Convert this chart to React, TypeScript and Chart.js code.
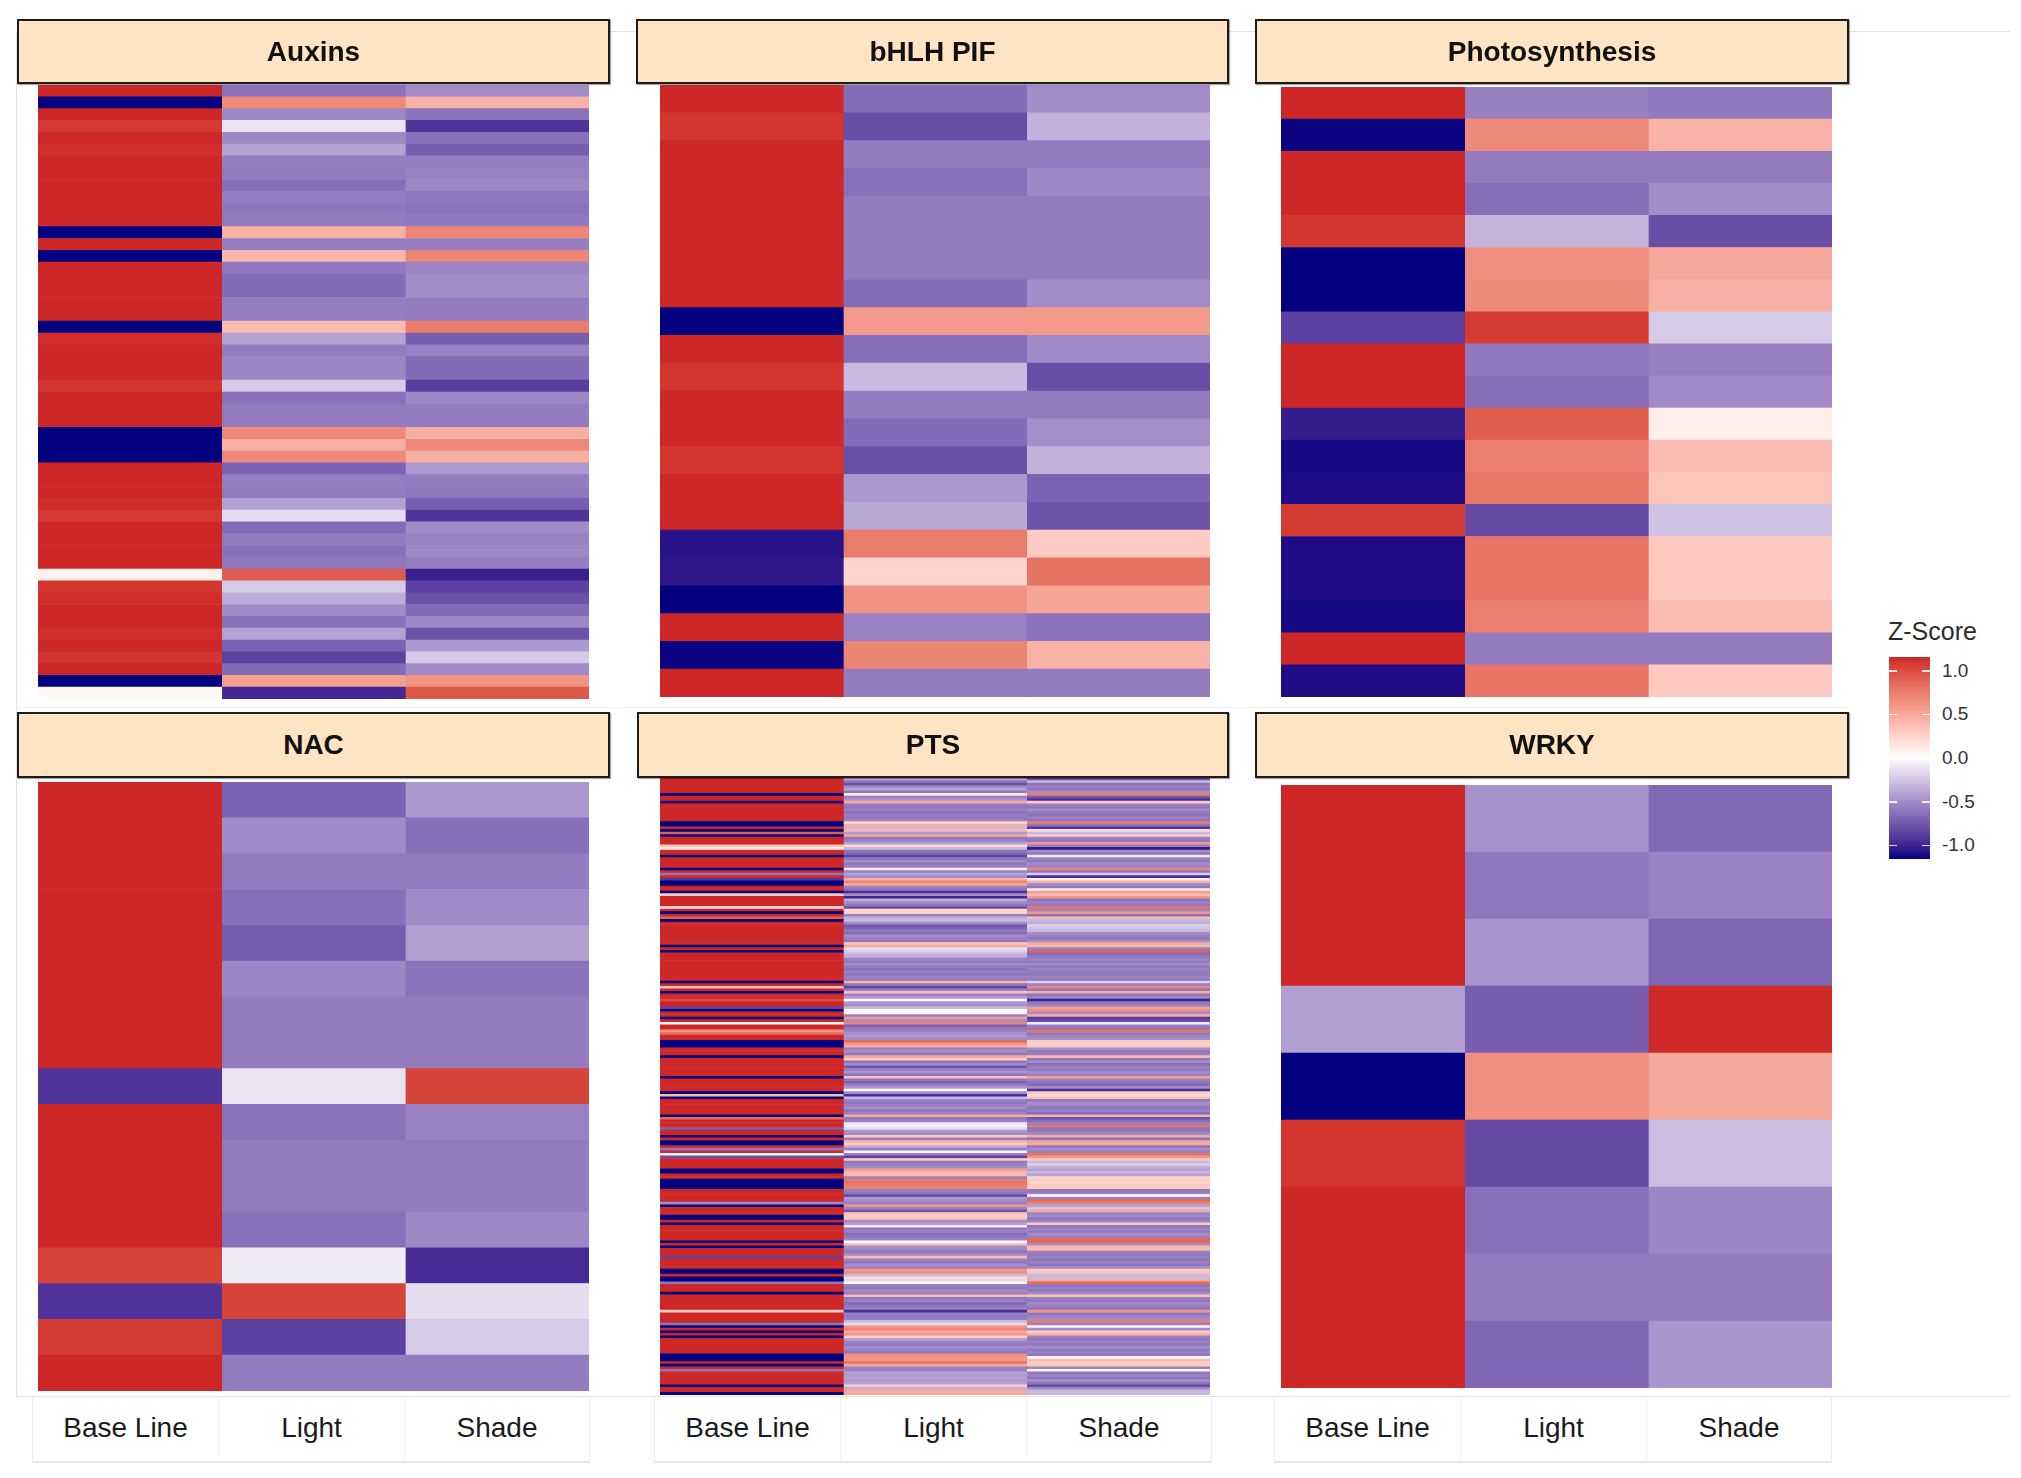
import React, { useEffect, useRef } from "react";
import { Chart, registerables } from "chart.js";

Chart.register(...registerables);

// ---------- data ----------
const conditions = ["Base Line", "Light", "Shade"];
const legendTicks = [1.0, 0.5, 0.0, -0.5, -1.0];
const legendTitle = "Z-Score";
const Z_LIMIT = 1.1547;

// each row: [Base Line, Light, Shade] z-scores
const auxinsZ = [
  [1.15, -0.62, -0.5], [-1.15, 0.68, 0.45], [1.15, -0.52, -0.62], [1.08, -0.12, -0.92],
  [1.15, -0.52, -0.63], [1.12, -0.4, -0.72], [1.15, -0.57, -0.57], [1.15, -0.58, -0.55],
  [1.15, -0.64, -0.53], [1.15, -0.57, -0.6], [1.15, -0.6, -0.62], [1.15, -0.58, -0.59],
  [-1.15, 0.45, 0.7], [1.15, -0.57, -0.57], [-1.15, 0.42, 0.7], [1.15, -0.59, -0.54],
  [1.15, -0.66, -0.5], [1.15, -0.66, -0.5], [1.15, -0.57, -0.58], [1.15, -0.57, -0.58],
  [-1.15, 0.4, 0.75], [1.13, -0.4, -0.72], [1.15, -0.58, -0.55], [1.15, -0.53, -0.66],
  [1.15, -0.53, -0.66], [1.1, -0.22, -0.87], [1.15, -0.63, -0.52], [1.15, -0.58, -0.58],
  [1.15, -0.58, -0.58], [-1.15, 0.68, 0.46], [-1.15, 0.46, 0.68], [-1.15, 0.68, 0.46],
  [1.15, -0.7, -0.44], [1.15, -0.57, -0.58], [1.15, -0.58, -0.6], [1.13, -0.4, -0.72],
  [1.08, -0.15, -0.92], [1.15, -0.66, -0.5], [1.15, -0.58, -0.55], [1.15, -0.63, -0.52],
  [1.15, -0.6, -0.57], [0.08, 0.92, -1.02], [1.1, -0.22, -0.86], [1.13, -0.36, -0.78],
  [1.15, -0.51, -0.66], [1.15, -0.63, -0.52], [1.13, -0.4, -0.78], [1.15, -0.7, -0.45],
  [1.1, -0.86, -0.22], [1.15, -0.66, -0.51], [-1.15, 0.55, 0.62], [0.04, -0.98, 0.94],
];

const bhlhZ = [
  [1.15, -0.65, -0.5], [1.1, -0.8, -0.33], [1.15, -0.58, -0.58], [1.15, -0.63, -0.52],
  [1.15, -0.58, -0.58], [1.15, -0.58, -0.58], [1.15, -0.58, -0.58], [1.15, -0.65, -0.5],
  [-1.15, 0.58, 0.58], [1.15, -0.64, -0.51], [1.1, -0.3, -0.8], [1.15, -0.58, -0.58],
  [1.15, -0.66, -0.49], [1.1, -0.79, -0.33], [1.15, -0.45, -0.7], [1.15, -0.38, -0.77],
  [-1.08, 0.75, 0.3], [-1.06, 0.25, 0.8], [-1.15, 0.62, 0.52], [1.15, -0.55, -0.62],
  [-1.14, 0.7, 0.44], [1.15, -0.58, -0.58],
];

const photoZ = [
  [1.15, -0.56, -0.59], [-1.14, 0.68, 0.44], [1.15, -0.58, -0.58], [1.15, -0.64, -0.5],
  [1.1, -0.32, -0.8], [-1.15, 0.65, 0.5], [-1.15, 0.68, 0.46], [-0.86, 1.08, -0.22],
  [1.15, -0.59, -0.56], [1.15, -0.64, -0.51], [-1.03, 0.92, 0.1], [-1.12, 0.74, 0.38],
  [-1.11, 0.78, 0.33], [1.08, -0.82, -0.26], [-1.1, 0.79, 0.31], [-1.1, 0.79, 0.31],
  [-1.12, 0.74, 0.38], [1.15, -0.58, -0.58], [-1.1, 0.79, 0.31],
];

const nacZ = [
  [1.15, -0.7, -0.45], [1.15, -0.51, -0.64], [1.15, -0.58, -0.58], [1.15, -0.64, -0.51],
  [1.15, -0.73, -0.42], [1.15, -0.53, -0.62], [1.15, -0.58, -0.58], [1.15, -0.58, -0.58],
  [-0.92, -0.12, 1.04], [1.15, -0.62, -0.55], [1.15, -0.58, -0.58], [1.15, -0.58, -0.58],
  [1.15, -0.63, -0.52], [1.05, -0.08, -0.96], [-0.92, 1.05, -0.14], [1.08, -0.86, -0.22],
  [1.15, -0.58, -0.58],
];

const wrkyZ = [
  [1.15, -0.48, -0.67], [1.15, -0.6, -0.55], [1.15, -0.47, -0.68], [-0.42, -0.72, 1.14],
  [-1.15, 0.65, 0.5], [1.1, -0.82, -0.28], [1.15, -0.63, -0.53], [1.15, -0.58, -0.58],
  [1.15, -0.68, -0.46],
];

const ptsZ = [
  [1.15, -0.35, -0.75], [1.15, -0.6, -0.3], [1.15, -0.8, -0.6], [1.15, -0.5, -0.55],
  [1.15, -0.4, -0.6], [1.15, -0.6, -0.5], [-1.15, 0.15, 0.75], [1.15, -0.55, -0.75],
  [1.15, -0.45, -0.95], [-1.1, 0.5, 0.3], [1.15, -0.58, -0.55], [1.15, -0.6, -0.6],
  [1.15, -0.55, -0.5], [1.15, -0.62, -0.58], [1.15, -0.57, -0.62], [1.15, -0.6, -0.55],
  [1.15, -0.55, -0.6], [-1.15, 0.25, 0.75], [-1.15, 0.45, -0.6], [1.15, -0.3, -0.9],
  [-1.15, 0.4, 0.2], [0.9, -0.45, -0.3], [-1.15, 0.5, 0.3], [1.15, -0.6, -0.55],
  [1.15, -0.55, -0.6], [1.15, -0.4, 0.6], [0.35, 0.2, -0.55], [0.1, -0.3, -1.05],
  [1.15, -0.6, -0.5], [1.15, -0.65, -0.6], [-1.15, -0.85, 0.15], [1.15, -0.6, -0.55],
  [1.15, -0.5, -0.6], [1.15, -0.6, -0.5], [1.15, -0.55, -0.55], [-1.15, 0.1, 0.7],
  [1.15, -0.55, -0.6], [-0.6, -0.4, -0.2], [1.15, -0.5, -0.95], [-0.9, 0.45, 0.1],
  [-1.15, 0.7, 0.45], [-1.15, 0.5, -0.5], [1.15, -0.55, -0.6], [1.15, -0.6, 0.1],
  [-1.15, -0.95, 0.55], [0.3, -0.5, 0.4], [1.15, -1.0, 0.6], [1.15, -0.35, -0.6],
  [1.15, -0.5, -0.55], [1.15, -0.6, -0.6], [0.15, -0.8, 0.8], [1.15, 0.2, -0.55],
  [-1.15, 0.25, 0.6], [1.15, -0.55, -0.6], [0.9, -0.35, 0.4], [-1.15, -0.3, -0.3],
  [1.15, -0.5, -0.35], [1.15, -0.75, -0.2], [1.15, -0.7, -0.25], [1.15, -0.6, -0.3],
  [1.15, -0.65, -0.5], [1.15, -0.5, -0.55], [1.15, -0.55, -0.6], [1.15, -0.6, -0.5],
  [1.15, 0.35, 0.5], [-1.15, 0.5, 0.4], [1.15, -0.15, -0.55], [-1.15, -0.2, 0.9],
  [1.15, -0.3, -0.65], [1.15, -0.35, -0.6], [1.15, -0.55, -0.55], [1.15, -0.6, -0.6],
  [1.15, -0.5, -0.5], [1.15, -0.58, -0.6], [1.15, -0.62, -0.55], [1.15, -0.55, -0.58],
  [1.15, -0.6, -0.6], [1.15, -0.55, -0.55], [1.15, -0.6, -0.6], [-1.15, 0.45, -0.2],
  [1.15, -0.6, -0.55], [0.35, -0.85, 0.7], [1.15, -0.55, -0.6], [-1.15, 0.35, 0.45],
  [1.15, -0.55, -0.6], [1.15, -0.45, -0.55], [1.0, 0.05, -1.0], [1.15, -0.45, -0.6],
  [1.15, -0.5, -0.55], [-0.85, -0.3, 0.55], [-1.15, 0.0, 0.65], [1.15, 0.05, -0.5],
  [1.15, -0.55, 0.5], [-1.15, 0.55, -0.9], [1.15, -0.5, -0.8], [0.05, 0.7, -0.1],
  [1.15, -0.7, -0.55], [1.15, -0.6, -0.6], [0.6, -0.55, 0.8], [0.85, -0.5, -0.6],
  [1.15, -0.45, -0.55], [1.15, -0.5, -0.5], [-1.15, 0.85, 0.3], [-1.15, 0.6, 0.25],
  [-1.15, 0.5, 0.3], [1.15, -0.55, -0.5], [1.15, -0.5, -0.6], [1.15, -0.6, -0.55],
  [-1.15, 0.5, 0.4], [1.15, 0.3, -0.6], [1.15, -0.6, -0.5], [1.15, -0.5, -0.65],
  [1.15, -0.75, -0.55], [1.15, -0.55, -0.6], [1.15, -0.45, -0.5], [1.15, -0.6, -0.55],
  [-1.15, 0.35, 0.55], [1.15, -0.6, -0.55], [1.15, -0.7, -0.6], [1.15, -0.55, -0.65],
  [1.15, -0.45, -0.5], [1.15, 0.0, -0.95], [-1.15, -0.5, 0.3], [0.4, -0.95, 0.2],
  [-1.15, -0.3, 0.35], [1.15, -0.55, -0.6], [1.15, -0.6, -0.5], [1.15, -0.55, -0.55],
  [1.15, -0.5, -0.6], [1.15, -0.6, -0.55], [1.15, -0.55, -0.65], [-1.15, 0.5, 0.45],
  [0.85, -0.6, -0.75], [1.15, -0.55, -0.65], [1.15, -0.1, -0.55], [1.15, -0.05, 0.8],
  [-0.7, -0.15, -0.6], [1.15, -0.45, -0.6], [1.15, -0.5, -0.5], [-1.15, 0.3, 0.5],
  [1.15, -0.55, -0.6], [-1.15, 0.45, 0.55], [-1.15, 0.3, 0.5], [1.15, -0.35, -0.6],
  [-0.6, -0.55, -0.5], [1.15, -0.05, -0.55], [0.05, -0.55, 0.8], [-0.8, -0.85, 0.6],
  [1.15, 0.3, 0.3], [1.15, -0.6, -0.3], [1.15, -0.55, -0.2], [1.15, -0.5, -0.35],
  [-1.15, 0.55, -0.4], [-1.15, 0.4, -0.3], [1.15, 0.4, -0.4], [1.15, -0.55, 0.25],
  [-1.15, 0.75, 0.3], [-1.15, 0.8, 0.25], [-1.15, 0.75, 0.3], [-1.15, 0.7, 0.3],
  [1.15, -0.55, -0.6], [1.15, -0.6, -0.55], [1.15, -0.85, 0.0], [1.15, -0.45, -0.55],
  [1.15, -0.5, 0.85], [-0.5, -0.55, 0.7], [-1.15, 0.6, -0.4], [1.15, -0.55, -0.25],
  [1.15, -0.75, 0.5], [1.15, 0.35, -0.55], [-1.15, 0.3, -0.5], [-1.15, 0.35, -0.6],
  [1.15, -0.5, -0.55], [-1.15, -0.4, 0.3], [1.15, 0.15, -0.6], [1.15, -0.6, -0.55],
  [1.15, -0.55, -0.6], [1.15, -0.65, -0.5], [1.15, -0.6, -0.55], [1.15, -0.55, 0.85],
  [-1.15, 0.0, 0.85], [1.15, 0.35, -0.5], [-1.15, -0.5, 0.4], [1.15, -0.55, 0.4],
  [1.15, -0.6, -0.55], [1.15, -0.5, -0.6], [-0.85, 0.4, -0.55], [1.15, -0.55, -0.6],
  [1.15, -0.6, -0.55], [1.15, -0.5, -0.6], [1.15, -0.55, -0.5], [-1.15, 0.6, 0.3],
  [-1.15, 0.65, 0.35], [1.15, -0.3, -0.3], [-1.15, 0.2, -0.3], [-1.15, -0.15, 0.5],
  [-0.6, 0.05, 0.85], [1.15, -0.55, -0.6], [1.15, -0.6, -0.55], [1.15, -0.5, -0.6],
  [-1.15, -0.55, -0.5], [1.15, 0.4, 0.35], [1.15, -0.6, -0.55], [1.15, -0.55, -0.6],
  [1.15, -0.65, -0.5], [1.15, -0.6, -0.55], [1.15, -0.55, -0.6], [0.3, -0.95, 0.6],
  [1.15, -0.55, -0.6], [1.15, -0.6, -0.55], [1.15, -0.55, -0.5], [1.15, -0.3, 0.75],
  [-0.6, -0.15, -0.55], [-1.15, 0.6, 0.05], [1.15, 0.7, -0.5], [-1.15, 0.5, 0.3],
  [1.15, 0.6, 0.45], [-1.15, 0.3, -0.55], [1.15, -0.4, -0.6], [1.15, -0.55, -0.55],
  [1.15, -0.6, -0.6], [1.15, -0.5, -0.5], [1.15, -0.55, -0.6], [1.15, -0.6, -0.55],
  [-1.15, 0.65, -0.6], [-1.15, 0.6, 0.05], [-1.15, 0.6, 0.4], [1.15, 0.8, 0.3],
  [-1.15, 0.5, 0.3], [1.15, -0.55, -0.55], [-0.6, -0.55, 0.05], [1.15, -0.4, -0.6],
  [1.15, -0.45, -0.55], [1.15, -0.4, -0.6], [1.15, -0.45, -0.5], [1.15, -0.4, -0.6],
  [-1.15, 0.3, -0.8], [1.15, -0.35, -0.5], [1.15, 0.5, -0.3], [-1.15, 0.5, -0.3],
];

// ---------- colour scale (Lab interpolation, navy - white - red) ----------
const LOW_RGB = [0, 0, 128];
const MID_RGB = [255, 255, 255];
const HIGH_RGB = [205, 38, 38];

function toLinear(c: number) {
  const v = c / 255;
  return v <= 0.04045 ? v / 12.92 : Math.pow((v + 0.055) / 1.055, 2.4);
}
function fromLinear(v: number) {
  const c = v <= 0.0031308 ? 12.92 * v : 1.055 * Math.pow(v, 1 / 2.4) - 0.055;
  return Math.round(Math.max(0, Math.min(1, c)) * 255);
}
function rgbToLab(rgb: number[]) {
  const [r, g, b] = rgb.map(toLinear);
  const x = (0.4124 * r + 0.3576 * g + 0.1805 * b) / 0.95047;
  const y = 0.2126 * r + 0.7152 * g + 0.0722 * b;
  const z = (0.0193 * r + 0.1192 * g + 0.9505 * b) / 1.08883;
  const f = (t: number) => (t > 0.008856 ? Math.cbrt(t) : 7.787 * t + 16 / 116);
  const fx = f(x), fy = f(y), fz = f(z);
  return [116 * fy - 16, 500 * (fx - fy), 200 * (fy - fz)];
}
function labToRgb(lab: number[]) {
  const [L, a, bb] = lab;
  const fy = (L + 16) / 116;
  const fx = fy + a / 500;
  const fz = fy - bb / 200;
  const inv = (t: number) => (t * t * t > 0.008856 ? t * t * t : (t - 16 / 116) / 7.787);
  const x = inv(fx) * 0.95047, y = inv(fy), z = inv(fz) * 1.08883;
  const r = 3.2406 * x - 1.5372 * y - 0.4986 * z;
  const g = -0.9689 * x + 1.8758 * y + 0.0415 * z;
  const b = 0.0557 * x - 0.204 * y + 1.057 * z;
  return [fromLinear(r), fromLinear(g), fromLinear(b)];
}
const LAB_LOW = rgbToLab(LOW_RGB);
const LAB_MID = rgbToLab(MID_RGB);
const LAB_HIGH = rgbToLab(HIGH_RGB);

function zColor(z: number) {
  const t = Math.max(-1, Math.min(1, z / Z_LIMIT));
  const end = t < 0 ? LAB_LOW : LAB_HIGH;
  const k = Math.abs(t);
  const lab = LAB_MID.map((m, i) => m + (end[i] - m) * k);
  const [r, g, b] = labToRgb(lab);
  return `rgb(${r},${g},${b})`;
}

// ---------- components ----------
const FONT = '"Liberation Sans", Arial, Helvetica, sans-serif';

type HeatProps = { rows: number[][]; left: number; top: number; width: number; height: number };

function Heatmap({ rows, left, top, width, height }: HeatProps) {
  const ref = useRef<HTMLCanvasElement>(null);
  useEffect(() => {
    if (!ref.current) return;
    const labels = rows.map((_, i) => `gene ${i + 1}`);
    const datasets = conditions.map((cond, ci) => ({
      label: cond,
      data: rows.map(() => [ci, ci + 1] as [number, number]),
      backgroundColor: rows.map((r) => zColor(r[ci])),
      borderWidth: 0,
      barPercentage: 1,
      categoryPercentage: 1,
      grouped: false,
    }));
    const chart = new Chart(ref.current, {
      type: "bar",
      data: { labels, datasets },
      options: {
        indexAxis: "y",
        responsive: false,
        maintainAspectRatio: false,
        animation: false,
        devicePixelRatio: 1,
        layout: { padding: 0 },
        plugins: { legend: { display: false }, tooltip: { enabled: false } },
        scales: {
          x: { type: "linear", min: 0, max: 3, display: false },
          y: { type: "category", display: false, offset: true },
        },
      },
    } as any);
    return () => chart.destroy();
  }, [rows]);
  return (
    <canvas
      ref={ref}
      width={width}
      height={height}
      style={{ position: "absolute", left, top, width, height }}
    />
  );
}

function Strip({ title, left, top, width, height }: { title: string; left: number; top: number; width: number; height: number }) {
  return (
    <div
      style={{
        position: "absolute",
        left,
        top,
        width,
        height,
        boxSizing: "border-box",
        background: "#FFE4C4",
        border: "2px solid #1c1c1c",
        boxShadow: "1px 1px 1px rgba(0,0,0,0.35)",
        display: "flex",
        alignItems: "center",
        justifyContent: "center",
        fontFamily: FONT,
        fontWeight: 700,
        fontSize: 28,
        color: "#111",
      }}
    >
      {title}
    </div>
  );
}

function XLabels({ left, width }: { left: number; width: number }) {
  const colW = width / 3;
  return (
    <>
      {conditions.map((c, i) => (
        <div
          key={c}
          style={{
            position: "absolute",
            left: left + i * colW,
            top: 1396,
            width: colW,
            height: 67,
            boxSizing: "border-box",
            borderLeft: i === 0 ? "1px solid #ececec" : "1px solid #f3f3f3",
            borderRight: i === 2 ? "1px solid #ececec" : "none",
            borderBottom: "2px solid #e6e6e6",
            display: "flex",
            alignItems: "center",
            justifyContent: "center",
            fontFamily: FONT,
            fontSize: 28,
            color: "#1a1a1a",
            paddingBottom: 2,
          }}
        >
          {c}
        </div>
      ))}
    </>
  );
}

function Legend() {
  const barTop = 657;
  const barH = 202;
  const stops: string[] = [];
  for (let i = 0; i <= 24; i++) {
    const z = Z_LIMIT - (2 * Z_LIMIT * i) / 24;
    stops.push(`${zColor(z)} ${(i / 24) * 100}%`);
  }
  const yOf = (v: number) => barTop + ((Z_LIMIT - v) / (2 * Z_LIMIT)) * barH;
  return (
    <>
      <div
        style={{
          position: "absolute",
          left: 1888,
          top: 617,
          fontFamily: FONT,
          fontSize: 25,
          color: "#2b2b2b",
          whiteSpace: "nowrap",
        }}
      >
        {legendTitle}
      </div>
      <div
        style={{
          position: "absolute",
          left: 1889,
          top: barTop,
          width: 41,
          height: barH,
          background: `linear-gradient(to bottom, ${stops.join(", ")})`,
        }}
      />
      {legendTicks.map((v) => (
        <React.Fragment key={v}>
          <div style={{ position: "absolute", left: 1889, top: yOf(v) - 0.5, width: 8, height: 1.5, background: "rgba(255,255,255,0.85)" }} />
          <div style={{ position: "absolute", left: 1922, top: yOf(v) - 0.5, width: 8, height: 1.5, background: "rgba(255,255,255,0.85)" }} />
          <div
            style={{
              position: "absolute",
              left: 1942,
              top: yOf(v) - 12,
              height: 24,
              lineHeight: "24px",
              fontFamily: FONT,
              fontSize: 19,
              color: "#333",
              whiteSpace: "nowrap",
            }}
          >
            {v.toFixed(1)}
          </div>
        </React.Fragment>
      ))}
    </>
  );
}

export default function App() {
  const line = (l: number, t: number, w: number, h: number, c = "#e2e2e2") => (
    <div style={{ position: "absolute", left: l, top: t, width: w, height: h, background: c }} />
  );
  return (
    <div
      style={{
        position: "absolute",
        left: 0,
        top: 0,
        width: 2021,
        height: 1478,
        background: "#ffffff",
        overflow: "hidden",
      }}
    >
      {line(16, 31, 1994, 1)}
      {line(16, 31, 1, 1366)}
      {line(16, 1396, 1994, 1)}
      {line(16, 707, 1834, 1, "#f4f4f4")}

      <Heatmap rows={auxinsZ} left={38} top={85} width={551} height={614} />
      <Heatmap rows={bhlhZ} left={660} top={85} width={550} height={612} />
      <Heatmap rows={photoZ} left={1281} top={87} width={551} height={610} />
      <Heatmap rows={nacZ} left={38} top={782} width={551} height={609} />
      <Heatmap rows={ptsZ} left={660} top={778} width={550} height={617} />
      <Heatmap rows={wrkyZ} left={1281} top={785} width={551} height={603} />

      <Strip title="Auxins" left={17} top={19} width={593} height={65} />
      <Strip title="bHLH PIF" left={636} top={19} width={593} height={65} />
      <Strip title="Photosynthesis" left={1255} top={19} width={594} height={65} />
      <Strip title="NAC" left={17} top={712} width={593} height={66} />
      <Strip title="PTS" left={637} top={712} width={592} height={66} />
      <Strip title="WRKY" left={1255} top={712} width={594} height={66} />

      <XLabels left={32} width={558} />
      <XLabels left={654} width={558} />
      <XLabels left={1274} width={558} />

      <Legend />
    </div>
  );
}
